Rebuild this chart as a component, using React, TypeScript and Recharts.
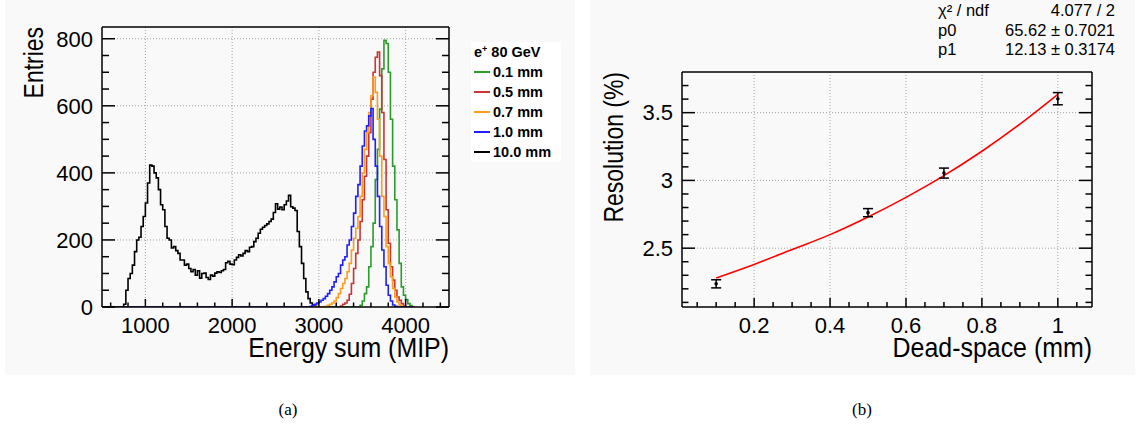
import React from 'react';
import {
  LineChart,
  ComposedChart,
  Line,
  Scatter,
  ErrorBar,
  XAxis,
  YAxis,
  ReferenceLine,
  Legend,
  Label,
} from 'recharts';

const FONT = '"Liberation Sans", Arial, Helvetica, sans-serif';
const PANEL_BG = '#f9f9f9';

// ---------- (a) energy sum, 25 MIP bins ----------
const BIN = 25;
const histStart = 500;
const histEnd = 4100;

// 10.0 mm, first filled bin at 750
const h100Lo = 750;
const h100 = [
  8, 50, 85, 100, 125, 165, 200, 208, 240, 270,
  310, 370, 423, 420, 400, 385, 350, 305, 290, 240,
  205, 200, 176, 180, 168, 160, 140, 140, 125, 128,
  115, 105, 112, 95, 108, 86, 100, 101, 88, 82,
  95, 92, 101, 105, 103, 108, 112, 132, 136, 128,
  126, 140, 148, 156, 152, 160, 168, 165, 178, 180,
  195, 205, 220, 232, 238, 243, 248, 255, 262, 282,
  308, 292, 298, 290, 305, 316, 333, 299, 295, 288,
  225, 180, 130, 85, 45, 25, 12, 6, 2,
];

// 1.0 mm, from 2900
const h10Lo = 2900;
const h10 = [
  2, 5, 8, 12, 15, 20, 25, 32, 40, 50,
  60, 75, 90, 100, 125, 140, 150, 185, 200, 240,
  280, 330, 365, 420, 480, 525, 540, 570, 592, 500,
  420, 330, 240, 170, 120, 65, 35, 18, 6, 2,
];

// 0.7 mm, from 3075
const h07Lo = 3075;
const h07 = [
  2, 5, 8, 12, 18, 28, 40, 55, 70, 85,
  105, 130, 170, 205, 235, 270, 330, 400, 470, 520,
  580, 630, 686, 640, 560, 450, 330, 270, 180, 130,
  90, 55, 30, 15, 6, 2,
];

// 0.5 mm, from 3250
const h05Lo = 3250;
const h05 = [
  3, 8, 12, 20, 38, 70, 115, 160, 200, 255,
  320, 390, 450, 520, 620, 700, 745, 760, 690, 580,
  440, 290, 190, 120, 80, 50, 30, 20, 10, 4,
];

// 0.1 mm, from 3475
const h01Lo = 3475;
const h01 = [
  5, 18, 40, 60, 120, 180, 250, 380, 470, 590,
  710, 795, 786, 700, 560, 420, 320, 230, 130, 60,
  35, 22, 10, 4,
];

const histSeries = [
  { key: 'h01', label: '0.1 mm', color: '#2e9a2e', from: 750, to: 4100, lo: h01Lo, values: h01 },
  { key: 'h05', label: '0.5 mm', color: '#c83535', from: 750, to: 4100, lo: h05Lo, values: h05 },
  { key: 'h07', label: '0.7 mm', color: '#ff9c1a', from: 750, to: 4100, lo: h07Lo, values: h07 },
  { key: 'h10', label: '1.0 mm', color: '#1f1fff', from: 750, to: 4100, lo: h10Lo, values: h10 },
  { key: 'h100', label: '10.0 mm', color: '#000000', from: 500, to: 3000, lo: h100Lo, values: h100 },
];
const drawOrder = ['h100', 'h01', 'h05', 'h07', 'h10'];

const edges: number[] = [];
for (let e = histStart; e <= histEnd; e += BIN) edges.push(e);

const histRows = edges.map((e) => {
  const row: Record<string, number | null> = { e };
  histSeries.forEach((s) => {
    if (e < s.from || e > s.to) {
      row[s.key] = null;
    } else {
      const i = Math.round((e - s.lo) / BIN);
      row[s.key] = i >= 0 && i < s.values.length ? s.values[i] : 0;
    }
  });
  return row;
});

const xMajorA = [1000, 2000, 3000, 4000];
const xMinorA = [600, 800, 1200, 1400, 1600, 1800, 2200, 2400, 2600, 2800, 3200, 3400, 3600, 3800, 4200, 4400];
const yMajorA = [0, 200, 400, 600, 800];
const yMinorA = [50, 100, 150, 250, 300, 350, 450, 500, 550, 650, 700, 750];

// ---------- (b) resolution vs dead space ----------
const deadSpace = [0.1, 0.5, 0.7, 1.0];
const resolution = [2.237, 2.762, 3.054, 3.603];
const resolutionErr = [0.03, 0.03, 0.037, 0.045];

const fitX = [0.1, 0.2, 0.3, 0.4, 0.5, 0.6, 0.7, 0.8, 0.9, 1.0];
const fitY = [2.28, 2.38, 2.49, 2.6, 2.73, 2.875, 3.035, 3.215, 3.415, 3.635];

const xMajorB = [0.2, 0.4, 0.6, 0.8, 1];
const xMinorB = [0.05, 0.1, 0.15, 0.25, 0.3, 0.35, 0.45, 0.5, 0.55, 0.65, 0.7, 0.75, 0.85, 0.9, 0.95, 1.05];
const yMajorB = [2.5, 3, 3.5];
const yMinorB = [2.1, 2.2, 2.3, 2.4, 2.6, 2.7, 2.8, 2.9, 3.1, 3.2, 3.3, 3.4, 3.6, 3.7];

const statLabels = ['χ² / ndf', 'p0', 'p1'];
const statValues = ['4.077 / 2', '65.62 ± 0.7021', '12.13 ± 0.3174'];

const pointRows = deadSpace.map((x, i) => ({ x, y: resolution[i], err: resolutionErr[i] }));
const fitRows = fitX.map((x, i) => ({ x, y: fitY[i] }));

const frameStroke = { stroke: '#000', strokeWidth: 1.5 };
const gridProps = { stroke: '#a0a0a0', strokeDasharray: '1 2', strokeWidth: 1 };

const allTicks = (major: number[], minor: number[]) => [...major, ...minor].sort((a, b) => a - b);

// ROOT-like ticks: pointing into the frame, labels only on the majors
type Side = 'bottom' | 'top' | 'left' | 'right';
const frameTick = (side: Side, major: number[], len: [number, number], showLabel = false) => (props: any) => {
  const { x, y, payload } = props;
  const v = payload.value as number;
  const isMajor = major.some((m) => Math.abs(m - v) < 1e-9);
  const L = isMajor ? len[0] : len[1];
  let x2 = x;
  let y2 = y;
  if (side === 'bottom') y2 = y - L;
  if (side === 'top') y2 = y + L;
  if (side === 'left') x2 = x + L;
  if (side === 'right') x2 = x - L;
  return (
    <g>
      <line x1={x} y1={y} x2={x2} y2={y2} stroke="#000" strokeWidth={1.5} />
      {showLabel && isMajor && side === 'bottom' && (
        <text x={x} y={y + 10} dy="0.71em" textAnchor="middle" fontSize={22} fontFamily={FONT} fill="#000">
          {String(v)}
        </text>
      )}
      {showLabel && isMajor && side === 'left' && (
        <text x={x - 9} y={y} dy="0.355em" textAnchor="end" fontSize={22} fontFamily={FONT} fill="#000">
          {String(v)}
        </text>
      )}
    </g>
  );
};

// axis titles, right/top aligned like ROOT, slightly condensed
const xTitle = (text: string, baseline: number) => (props: any) => {
  const vb = props.viewBox;
  return (
    <text
      transform={`translate(${vb.x + vb.width},${vb.y + baseline}) scale(0.89,1)`}
      textAnchor="end"
      fontSize={28}
      fontFamily={FONT}
      fill="#000"
    >
      {text}
    </text>
  );
};

const yTitle = (text: string, baselineX: number) => (props: any) => {
  const vb = props.viewBox;
  return (
    <text
      transform={`translate(${vb.x + baselineX},${vb.y}) rotate(-90) scale(0.82,1)`}
      textAnchor="end"
      fontSize={28}
      fontFamily={FONT}
      fill="#000"
    >
      {text}
    </text>
  );
};

const HistLegend = () => (
  <div style={{ background: '#fff', width: 90, height: 120, fontFamily: FONT, fontWeight: 'bold', fontSize: 14.5, color: '#000' }}>
    <div style={{ height: 20, lineHeight: '20px', paddingLeft: 3 }}>
      e<span style={{ fontSize: 9, position: 'relative', top: -5 }}>+</span> 80 GeV
    </div>
    {histSeries.map((s) => (
      <div key={s.key} style={{ height: 20, display: 'flex', alignItems: 'center' }}>
        <span style={{ width: 16, height: 0, borderTop: `2px solid ${s.color}`, marginLeft: 3, marginRight: 3 }} />
        {s.label}
      </div>
    ))}
  </div>
);

const EnergyPanel = () => {
  const xd: [number, number] = [500, 4500];
  const yd: [number, number] = [0, 835];
  const xt = allTicks(xMajorA, xMinorA);
  const yt = allTicks(yMajorA, yMinorA);
  return (
    <LineChart width={570} height={375} data={histRows} margin={{ top: 26, right: 125, bottom: 0, left: 0 }}>
      {xMajorA.map((v) => (
        <ReferenceLine key={`gx${v}`} xAxisId="b" yAxisId="l" x={v} {...gridProps} />
      ))}
      {yMajorA.slice(1).map((v) => (
        <ReferenceLine key={`gy${v}`} xAxisId="b" yAxisId="l" y={v} {...gridProps} />
      ))}
      {drawOrder.map((k) => {
        const s = histSeries.find((h) => h.key === k)!;
        return (
          <Line
            key={k}
            xAxisId="b"
            yAxisId="l"
            dataKey={k}
            type="stepAfter"
            stroke={s.color}
            strokeWidth={1.6}
            dot={false}
            activeDot={false}
            isAnimationActive={false}
          />
        );
      })}
      <XAxis xAxisId="b" dataKey="e" type="number" domain={xd} allowDataOverflow ticks={xt} interval={0}
        height={68} tickSize={0} tickMargin={0} tickLine={false} axisLine={frameStroke}
        tick={frameTick('bottom', xMajorA, [8, 4.5], true)}>
        <Label content={xTitle('Energy sum (MIP)', 50)} />
      </XAxis>
      <XAxis xAxisId="t" orientation="top" type="number" domain={xd} allowDataOverflow ticks={xt} interval={0}
        height={1} tickSize={0} tickMargin={0} tickLine={false} axisLine={frameStroke}
        tick={frameTick('top', xMajorA, [8, 4.5])} />
      <YAxis yAxisId="l" type="number" domain={yd} allowDataOverflow ticks={yt} interval={0}
        width={97} tickSize={0} tickMargin={0} tickLine={false} axisLine={frameStroke}
        tick={frameTick('left', yMajorA, [13, 7], true)}>
        <Label content={yTitle('Entries', 38)} />
      </YAxis>
      <YAxis yAxisId="r" orientation="right" type="number" domain={yd} allowDataOverflow ticks={yt} interval={0}
        width={1} tickSize={0} tickMargin={0} tickLine={false} axisLine={frameStroke}
        tick={frameTick('right', yMajorA, [13, 7])} />
      <Legend
        layout="vertical"
        align="center"
        verticalAlign="middle"
        wrapperStyle={{ left: 466, top: 42, width: 90, height: 120 }}
        content={() => <HistLegend />}
      />
    </LineChart>
  );
};

const ResolutionPanel = () => {
  const xd: [number, number] = [0.01, 1.09];
  const yd: [number, number] = [2.066, 3.8];
  const xt = allTicks(xMajorB, xMinorB);
  const yt = allTicks(yMajorB, yMinorB);
  return (
    <ComposedChart width={545} height={375} margin={{ top: 71, right: 42, bottom: 0, left: 0 }}>
      {xMajorB.map((v) => (
        <ReferenceLine key={`gx${v}`} xAxisId="b" yAxisId="l" x={v} {...gridProps} />
      ))}
      {yMajorB.map((v) => (
        <ReferenceLine key={`gy${v}`} xAxisId="b" yAxisId="l" y={v} {...gridProps} />
      ))}
      <Line
        xAxisId="b"
        yAxisId="l"
        data={fitRows}
        dataKey="y"
        type="monotone"
        stroke="#ff0000"
        strokeWidth={1.6}
        dot={false}
        activeDot={false}
        isAnimationActive={false}
      />
      <Scatter
        xAxisId="b"
        yAxisId="l"
        data={pointRows}
        dataKey="y"
        fill="#000"
        isAnimationActive={false}
        shape={(p: any) => <circle cx={p.cx} cy={p.cy} r={1.8} fill="#000" />}
      >
        <ErrorBar dataKey="err" direction="y" width={5} stroke="#000" strokeWidth={1.5} />
      </Scatter>
      <XAxis xAxisId="b" dataKey="x" type="number" domain={xd} allowDataOverflow ticks={xt} interval={0}
        height={68} tickSize={0} tickMargin={0} tickLine={false} axisLine={frameStroke}
        tick={frameTick('bottom', xMajorB, [9, 5], true)}>
        <Label content={xTitle('Dead-space (mm)', 50)} />
      </XAxis>
      <XAxis xAxisId="t" orientation="top" type="number" domain={xd} allowDataOverflow ticks={xt} interval={0}
        height={1} tickSize={0} tickMargin={0} tickLine={false} axisLine={frameStroke}
        tick={frameTick('top', xMajorB, [9, 5])} />
      <YAxis yAxisId="l" type="number" domain={yd} allowDataOverflow ticks={yt} interval={0}
        width={92} tickSize={0} tickMargin={0} tickLine={false} axisLine={frameStroke}
        tick={frameTick('left', yMajorB, [13, 6.5], true)}>
        <Label content={yTitle('Resolution (%)', 33)} />
      </YAxis>
      <YAxis yAxisId="r" orientation="right" type="number" domain={yd} allowDataOverflow ticks={yt} interval={0}
        width={1} tickSize={0} tickMargin={0} tickLine={false} axisLine={frameStroke}
        tick={frameTick('right', yMajorB, [13, 6.5])} />
    </ComposedChart>
  );
};

const App = () => (
  <div style={{ position: 'absolute', left: 0, top: 0, width: 1136, height: 432, background: '#fff', fontFamily: FONT }}>
    <div style={{ position: 'absolute', left: 5, top: 0, width: 570, height: 375, background: PANEL_BG }}>
      <EnergyPanel />
    </div>
    <div style={{ position: 'absolute', left: 590, top: 0, width: 545, height: 375, background: PANEL_BG }}>
      <ResolutionPanel />
      <div style={{ position: 'absolute', left: 348, top: 1, width: 177, fontSize: 16.5, lineHeight: '19.5px', color: '#000' }}>
        {statLabels.map((l, i) => (
          <div key={l} style={{ display: 'flex', justifyContent: 'space-between' }}>
            <span>{l}</span>
            <span>{statValues[i]}</span>
          </div>
        ))}
      </div>
    </div>
    <div style={{ position: 'absolute', left: 288, top: 400, transform: 'translateX(-50%)', fontFamily: '"Liberation Serif", "Times New Roman", serif', fontSize: 17 }}>
      (a)
    </div>
    <div style={{ position: 'absolute', left: 862, top: 400, transform: 'translateX(-50%)', fontFamily: '"Liberation Serif", "Times New Roman", serif', fontSize: 17 }}>
      (b)
    </div>
  </div>
);

export default App;
